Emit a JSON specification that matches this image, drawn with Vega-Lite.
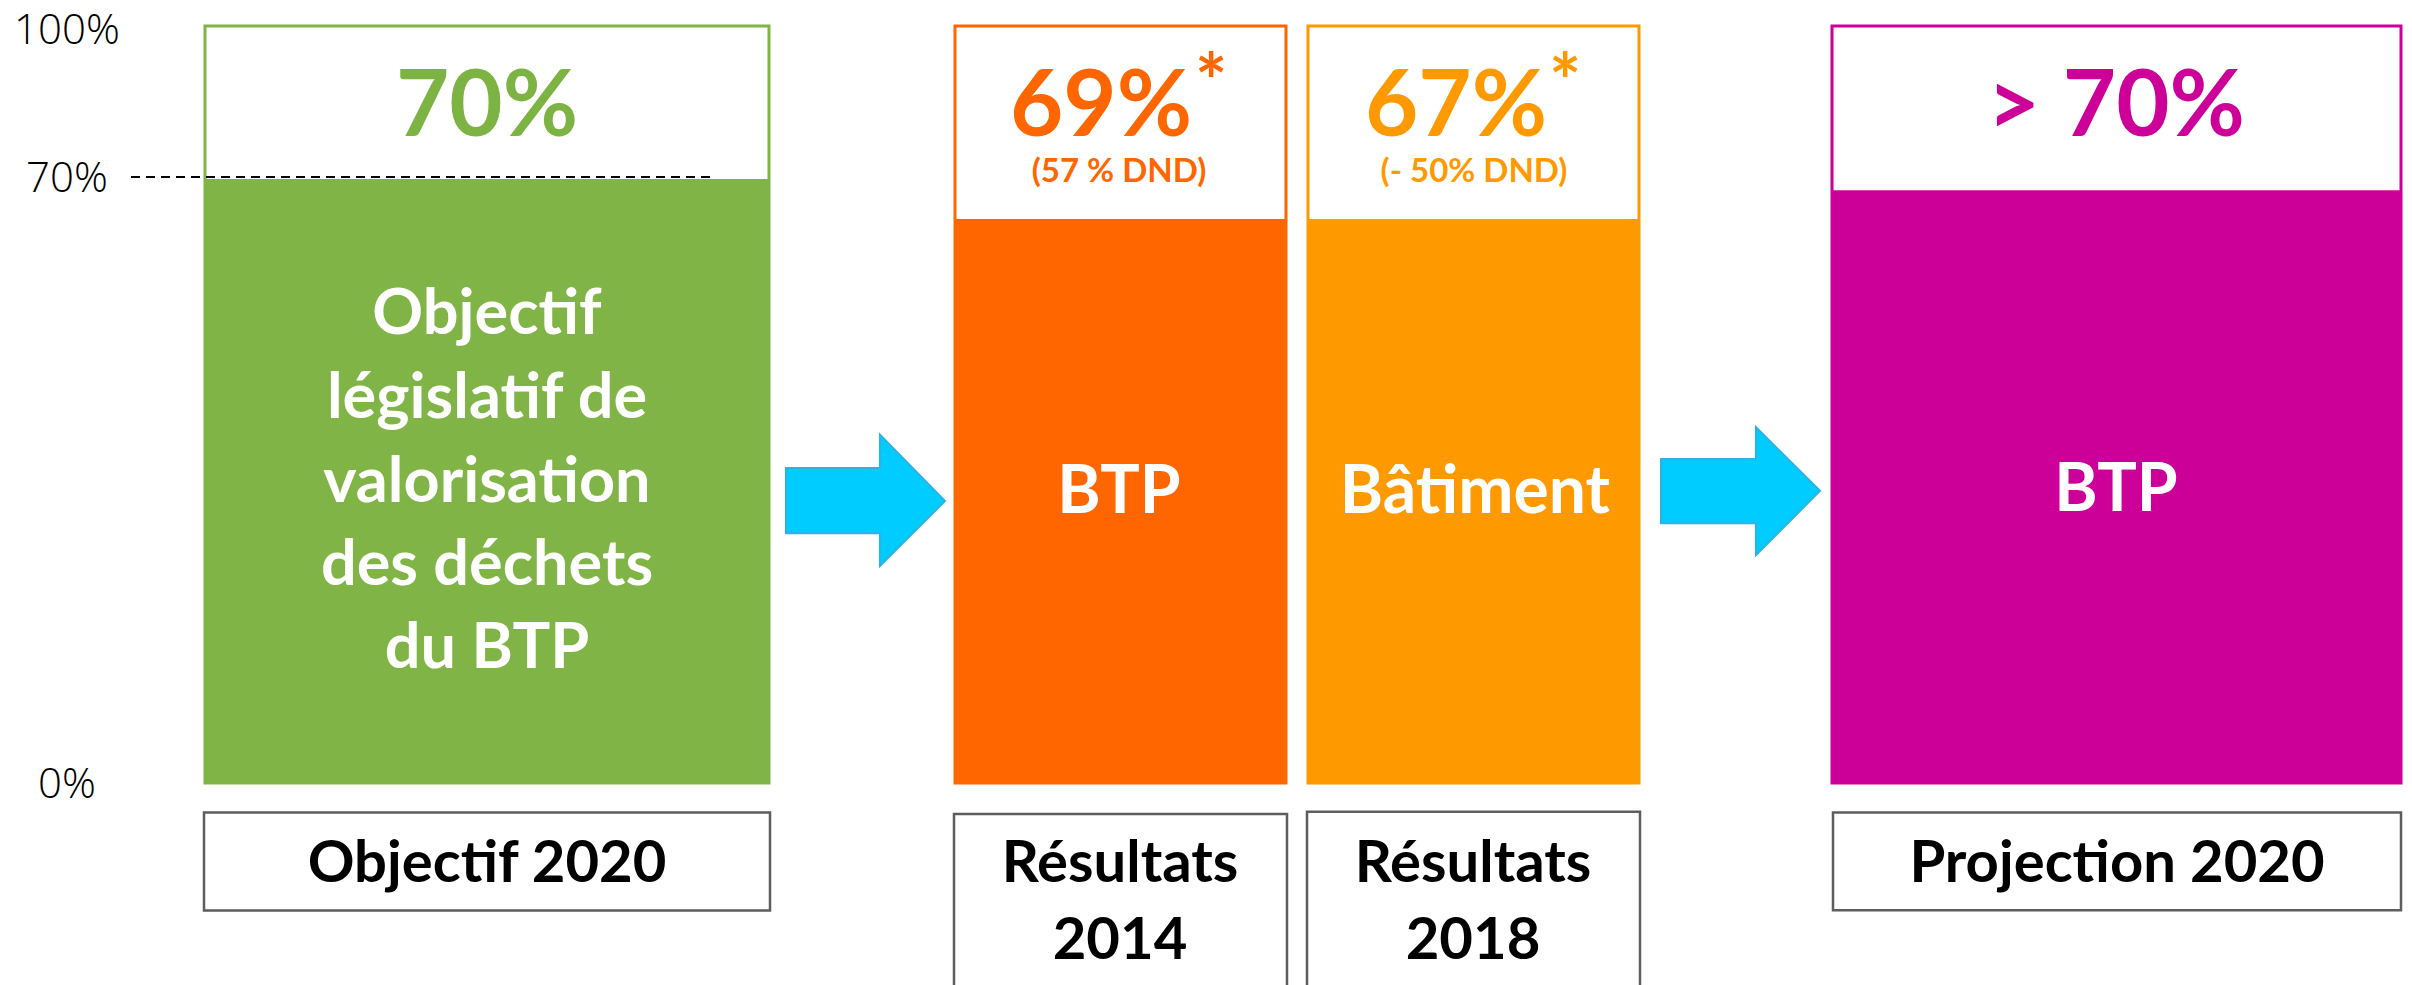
{
  "$schema": "https://vega.github.io/schema/vega-lite/v6.json",
  "width": 2412,
  "height": 985,
  "autosize": {"type": "none"},
  "padding": 0,
  "background": "white",
  "config": {"view": {"stroke": null}},
  "datasets": {
    "bars": [
      {"series": "obj", "x": 205, "x2": 769, "level": 79.8, "top": 100},
      {"series": "r14", "x": 955, "x2": 1286, "level": 74.5, "top": 100},
      {"series": "r18", "x": 1308, "x2": 1639, "level": 74.5, "top": 100},
      {"series": "proj", "x": 1832, "x2": 2401, "level": 78.3, "top": 100}
    ],
    "target": [{"x": 131, "x2": 711, "y": 80.05}],
    "arrows": [
      {"arrow": "a1", "x": 786, "y": 33.0, "y2": 41.6},
      {"arrow": "a1", "x": 879.9, "y": 33.0, "y2": 41.6},
      {"arrow": "a1", "x": 880, "y": 28.7, "y2": 46.0},
      {"arrow": "a1", "x": 945, "y": 37.25, "y2": 37.25},
      {"arrow": "a2", "x": 1661, "y": 34.3, "y2": 42.8},
      {"arrow": "a2", "x": 1755.9, "y": 34.3, "y2": 42.8},
      {"arrow": "a2", "x": 1756, "y": 30.1, "y2": 47.0},
      {"arrow": "a2", "x": 1820, "y": 38.6, "y2": 38.6}
    ],
    "boxes": [
      {"x": 204, "x2": 770, "y": -3.9, "y2": -16.85},
      {"x": 954, "x2": 1287, "y": -4.1, "y2": -28},
      {"x": 1307, "x2": 1640, "y": -3.8, "y2": -28},
      {"x": 1833, "x2": 2401, "y": -3.9, "y2": -16.8}
    ],
    "axisLabels": [
      {"x": 67, "y": 97.6, "t": "100%"},
      {"x": 67, "y": 78.07, "t": "70%"},
      {"x": 67, "y": -1.98, "t": "0%"}
    ],
    "big": [
      {"series": "obj", "x": 487, "y": 85.47, "t": "70%"},
      {"series": "r14", "x": 1101, "y": 85.47, "t": "69%"},
      {"series": "r18", "x": 1456, "y": 85.47, "t": "67%"},
      {"series": "proj", "x": 2116, "y": 85.47, "t": "> 70%"}
    ],
    "stars": [
      {"series": "r14", "x": 1195, "y": 89.0, "t": "*"},
      {"series": "r18", "x": 1549, "y": 89.0, "t": "*"}
    ],
    "sub": [
      {"series": "r14", "x": 1119, "y": 79.4, "t": "(57 % DND)"},
      {"series": "r18", "x": 1474, "y": 79.4, "t": "(- 50% DND)"}
    ],
    "greenLines": [
      {"x": 487, "y": 59.3, "t": "Objectif"},
      {"x": 487, "y": 48.2, "t": "législatif de"},
      {"x": 487, "y": 37.1, "t": "valorisation"},
      {"x": 487, "y": 26.2, "t": "des déchets"},
      {"x": 487, "y": 15.2, "t": "du BTP"}
    ],
    "inner": [
      {"x": 1119, "y": 35.7, "t": "BTP"},
      {"x": 1475, "y": 35.7, "t": "Bâtiment"},
      {"x": 2116, "y": 35.9, "t": "BTP"}
    ],
    "bottom": [
      {"x": 487, "y": -13.08, "t": "Objectif 2020"},
      {"x": 1120, "y": -13.08, "t": "Résultats"},
      {"x": 1120, "y": -23.25, "t": "2014"},
      {"x": 1473, "y": -13.08, "t": "Résultats"},
      {"x": 1473, "y": -23.25, "t": "2018"},
      {"x": 2117, "y": -13.08, "t": "Projection 2020"}
    ]
  },
  "layer": [
    {
      "data": {"name": "bars"},
      "mark": {"type": "rect", "fill": "white", "strokeWidth": 3},
      "encoding": {
        "x": {"field": "x", "type": "quantitative", "scale": {"domain": [0, 2412], "nice": false, "zero": false}, "axis": null},
        "x2": {"field": "x2"},
        "y": {"field": "top", "type": "quantitative", "scale": {"domain": [-26.68, 103.43], "nice": false, "zero": false}, "axis": null},
        "y2": {"datum": 0},
        "stroke": {"field": "series", "type": "nominal", "scale": {"domain": ["obj", "r14", "r18", "proj"], "range": ["#80B446", "#FF6600", "#FF9900", "#CC0099"]}, "legend": null}
      }
    },
    {
      "data": {"name": "bars"},
      "mark": {"type": "rect"},
      "encoding": {
        "x": {"field": "x", "type": "quantitative", "scale": {"domain": [0, 2412], "nice": false, "zero": false}, "axis": null},
        "x2": {"field": "x2"},
        "y": {"field": "level", "type": "quantitative", "scale": {"domain": [-26.68, 103.43], "nice": false, "zero": false}, "axis": null},
        "y2": {"datum": 0},
        "fill": {"field": "series", "type": "nominal", "scale": {"domain": ["obj", "r14", "r18", "proj"], "range": ["#80B446", "#FF6600", "#FF9900", "#CC0099"]}, "legend": null}
      }
    },
    {
      "data": {"name": "target"},
      "mark": {"type": "rule", "color": "black", "strokeWidth": 2, "strokeDash": [9, 6]},
      "encoding": {
        "x": {"field": "x", "type": "quantitative", "scale": {"domain": [0, 2412], "nice": false, "zero": false}, "axis": null},
        "x2": {"field": "x2"},
        "y": {"field": "y", "type": "quantitative", "scale": {"domain": [-26.68, 103.43], "nice": false, "zero": false}, "axis": null}
      }
    },
    {
      "data": {"name": "arrows"},
      "mark": {"type": "area", "fill": "#00CCFF", "fillOpacity": 1, "stroke": "#2AB4E4", "strokeWidth": 2, "interpolate": "linear", "orient": "vertical"},
      "encoding": {
        "x": {"field": "x", "type": "quantitative", "scale": {"domain": [0, 2412], "nice": false, "zero": false}, "axis": null},
        "y": {"field": "y", "type": "quantitative", "scale": {"domain": [-26.68, 103.43], "nice": false, "zero": false}, "axis": null, "stack": null},
        "y2": {"field": "y2"},
        "detail": {"field": "arrow", "type": "nominal"}
      }
    },
    {
      "data": {"name": "boxes"},
      "mark": {"type": "rect", "fill": "white", "stroke": "#5E5E5E", "strokeWidth": 2.5, "clip": true},
      "encoding": {
        "x": {"field": "x", "type": "quantitative", "scale": {"domain": [0, 2412], "nice": false, "zero": false}, "axis": null},
        "x2": {"field": "x2"},
        "y": {"field": "y", "type": "quantitative", "scale": {"domain": [-26.68, 103.43], "nice": false, "zero": false}, "axis": null},
        "y2": {"field": "y2"}
      }
    },
    {
      "data": {"name": "axisLabels"},
      "mark": {"type": "text", "font": "Open Sans", "fontWeight": 300, "fontSize": 42, "color": "black", "align": "center", "baseline": "alphabetic"},
      "encoding": {
        "x": {"field": "x", "type": "quantitative", "scale": {"domain": [0, 2412], "nice": false, "zero": false}, "axis": null},
        "y": {"field": "y", "type": "quantitative", "scale": {"domain": [-26.68, 103.43], "nice": false, "zero": false}, "axis": null},
        "text": {"field": "t"}
      }
    },
    {
      "data": {"name": "big"},
      "mark": {"type": "text", "font": "Lato", "fontWeight": "bold", "fontSize": 92, "align": "center", "baseline": "alphabetic"},
      "encoding": {
        "x": {"field": "x", "type": "quantitative", "scale": {"domain": [0, 2412], "nice": false, "zero": false}, "axis": null},
        "y": {"field": "y", "type": "quantitative", "scale": {"domain": [-26.68, 103.43], "nice": false, "zero": false}, "axis": null},
        "text": {"field": "t"},
        "color": {"field": "series", "type": "nominal", "scale": {"domain": ["obj", "r14", "r18", "proj"], "range": ["#7DB343", "#FF6600", "#FF9900", "#CC0099"]}, "legend": null}
      }
    },
    {
      "data": {"name": "stars"},
      "mark": {"type": "text", "font": "Lato", "fontWeight": "bold", "fontSize": 76, "align": "left", "baseline": "alphabetic"},
      "encoding": {
        "x": {"field": "x", "type": "quantitative", "scale": {"domain": [0, 2412], "nice": false, "zero": false}, "axis": null},
        "y": {"field": "y", "type": "quantitative", "scale": {"domain": [-26.68, 103.43], "nice": false, "zero": false}, "axis": null},
        "text": {"field": "t"},
        "color": {"field": "series", "type": "nominal", "scale": {"domain": ["obj", "r14", "r18", "proj"], "range": ["#7DB343", "#FF6600", "#FF9900", "#CC0099"]}, "legend": null}
      }
    },
    {
      "data": {"name": "sub"},
      "mark": {"type": "text", "font": "Lato", "fontWeight": "bold", "fontSize": 33, "align": "center", "baseline": "alphabetic"},
      "encoding": {
        "x": {"field": "x", "type": "quantitative", "scale": {"domain": [0, 2412], "nice": false, "zero": false}, "axis": null},
        "y": {"field": "y", "type": "quantitative", "scale": {"domain": [-26.68, 103.43], "nice": false, "zero": false}, "axis": null},
        "text": {"field": "t"},
        "color": {"field": "series", "type": "nominal", "scale": {"domain": ["obj", "r14", "r18", "proj"], "range": ["#7DB343", "#FF6600", "#FF9900", "#CC0099"]}, "legend": null}
      }
    },
    {
      "data": {"name": "greenLines"},
      "mark": {"type": "text", "font": "Lato", "fontWeight": "bold", "fontSize": 63, "color": "white", "align": "center", "baseline": "alphabetic"},
      "encoding": {
        "x": {"field": "x", "type": "quantitative", "scale": {"domain": [0, 2412], "nice": false, "zero": false}, "axis": null},
        "y": {"field": "y", "type": "quantitative", "scale": {"domain": [-26.68, 103.43], "nice": false, "zero": false}, "axis": null},
        "text": {"field": "t"}
      }
    },
    {
      "data": {"name": "inner"},
      "mark": {"type": "text", "font": "Lato", "fontWeight": "bold", "fontSize": 66, "color": "white", "align": "center", "baseline": "alphabetic"},
      "encoding": {
        "x": {"field": "x", "type": "quantitative", "scale": {"domain": [0, 2412], "nice": false, "zero": false}, "axis": null},
        "y": {"field": "y", "type": "quantitative", "scale": {"domain": [-26.68, 103.43], "nice": false, "zero": false}, "axis": null},
        "text": {"field": "t"}
      }
    },
    {
      "data": {"name": "bottom"},
      "mark": {"type": "text", "font": "Lato", "fontWeight": "bold", "fontSize": 58, "color": "black", "align": "center", "baseline": "alphabetic"},
      "encoding": {
        "x": {"field": "x", "type": "quantitative", "scale": {"domain": [0, 2412], "nice": false, "zero": false}, "axis": null},
        "y": {"field": "y", "type": "quantitative", "scale": {"domain": [-26.68, 103.43], "nice": false, "zero": false}, "axis": null},
        "text": {"field": "t"}
      }
    }
  ]
}
